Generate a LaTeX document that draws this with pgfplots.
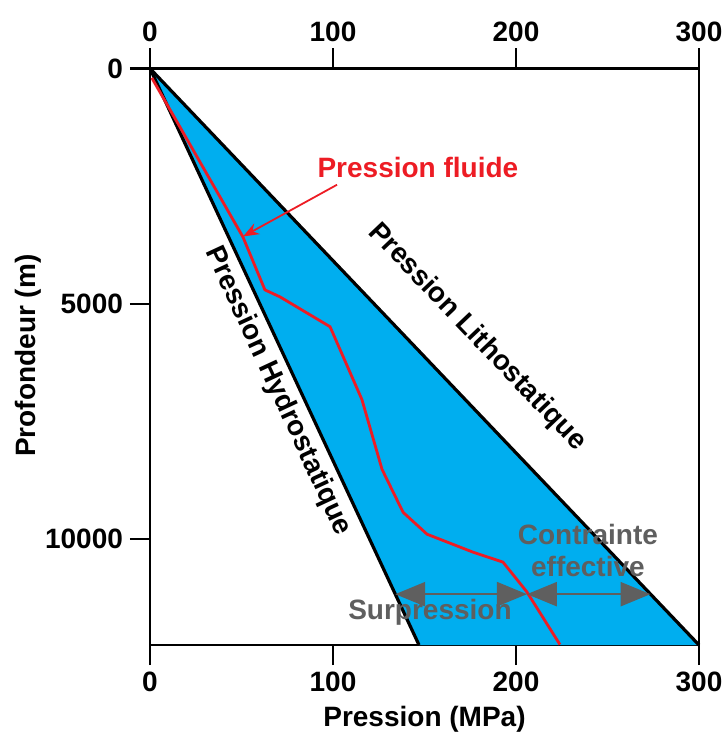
\documentclass[border=0pt]{standalone}
\usepackage{fontspec}
\setmainfont{Liberation Sans}
\usepackage{pgfplots}
\pgfplotsset{compat=1.18}
\usetikzlibrary{arrows.meta}
\definecolor{fillblue}{RGB}{0,174,239}
\definecolor{fluidred}{RGB}{237,28,36}
\definecolor{arrgray}{RGB}{95,95,95}
\newcommand{\lbl}{\bfseries\fontsize{14}{16}\selectfont}
\begin{document}
\begin{tikzpicture}
\pgfplotsset{
  base/.style={
    scale only axis, width=274.5pt, height=288.25pt,
    xmin=0, xmax=300, ymin=0, ymax=12250, y dir=reverse,
    tick align=outside, major tick length=10pt,
    tick style={black, line width=1.2pt},
    axis line style={black, line width=1.2pt},
    /pgf/number format/assume math mode=true,
    tick label style={font=\lbl},
    xtick={0,100,200,300},
  }
}
\begin{axis}[base,
  ytick={0,5000,10000},
  xtick pos=bottom, ytick pos=left,
  scaled y ticks=false,
  yticklabel style={/pgf/number format/1000 sep={}},
  clip=false,
]
\addplot[fill=fillblue, draw=none] coordinates {(0,0) (300,12250) (147,12250)} -- cycle;
\addplot[black, line width=1.6pt] coordinates {(0,0) (300,12250)};
\addplot[black, line width=1.6pt] coordinates {(0,0) (147,12250)};
\addplot[fluidred, line width=1.4pt] coordinates {
(1,200) (50.8,3581) (62.8,4704) (71.0,4852) (98.4,5487) (115.8,7034)
(126.8,8518) (138.3,9430) (151.4,9896) (176.5,10277) (192.9,10489)
(206.0,11125) (224.0,12240)};
% double arrows
\addplot[arrgray, line width=1.3pt, {Triangle[length=15pt,width=12pt]}-{Triangle[length=15pt,width=12pt]}] coordinates {(134,11170) (206,11170)};
\addplot[arrgray, line width=1.3pt, {Triangle[length=15pt,width=12pt]}-{Triangle[length=15pt,width=12pt]}] coordinates {(206,11170) (273.5,11170)};
% red pointer
\addplot[fluidred, line width=0.9pt, -{Stealth[length=8pt,width=6pt]}] coordinates {(102.2,2470) (50.8,3570)};
\node[text=fluidred, font=\lbl] at (axis cs:146.4,2110) {Pression fluide};
\node[font=\lbl, rotate=-46.4] at (axis cs:178.7,5713) {Pression Lithostatique};
\node[font=\lbl, rotate=-65.1] at (axis cs:69.9,6858) {Pression Hydrostatique};
\node[text=arrgray, font=\lbl, align=center] at (axis cs:239.3,10250) {Contrainte\\effective};
\node[text=arrgray, font=\lbl] at (axis cs:153,11554) {Surpression};
\node[font=\lbl] at ([yshift=-37pt]axis cs:150,12250) {Pression (MPa)};
\node[font=\lbl, rotate=90] at ([xshift=-61pt]axis cs:0,6100) {Profondeur (m)};
\coordinate (bl) at (axis cs:0,12250);
\coordinate (tr) at (axis cs:300,0);
\end{axis}
\begin{axis}[base,
  axis x line*=top, axis y line=none,
  xticklabel pos=upper,
]
\end{axis}
\pgfresetboundingbox
\path ([xshift=-75pt,yshift=-50pt]bl) rectangle ([xshift=14.5pt,yshift=34.25pt]tr);
\end{tikzpicture}
\end{document}
